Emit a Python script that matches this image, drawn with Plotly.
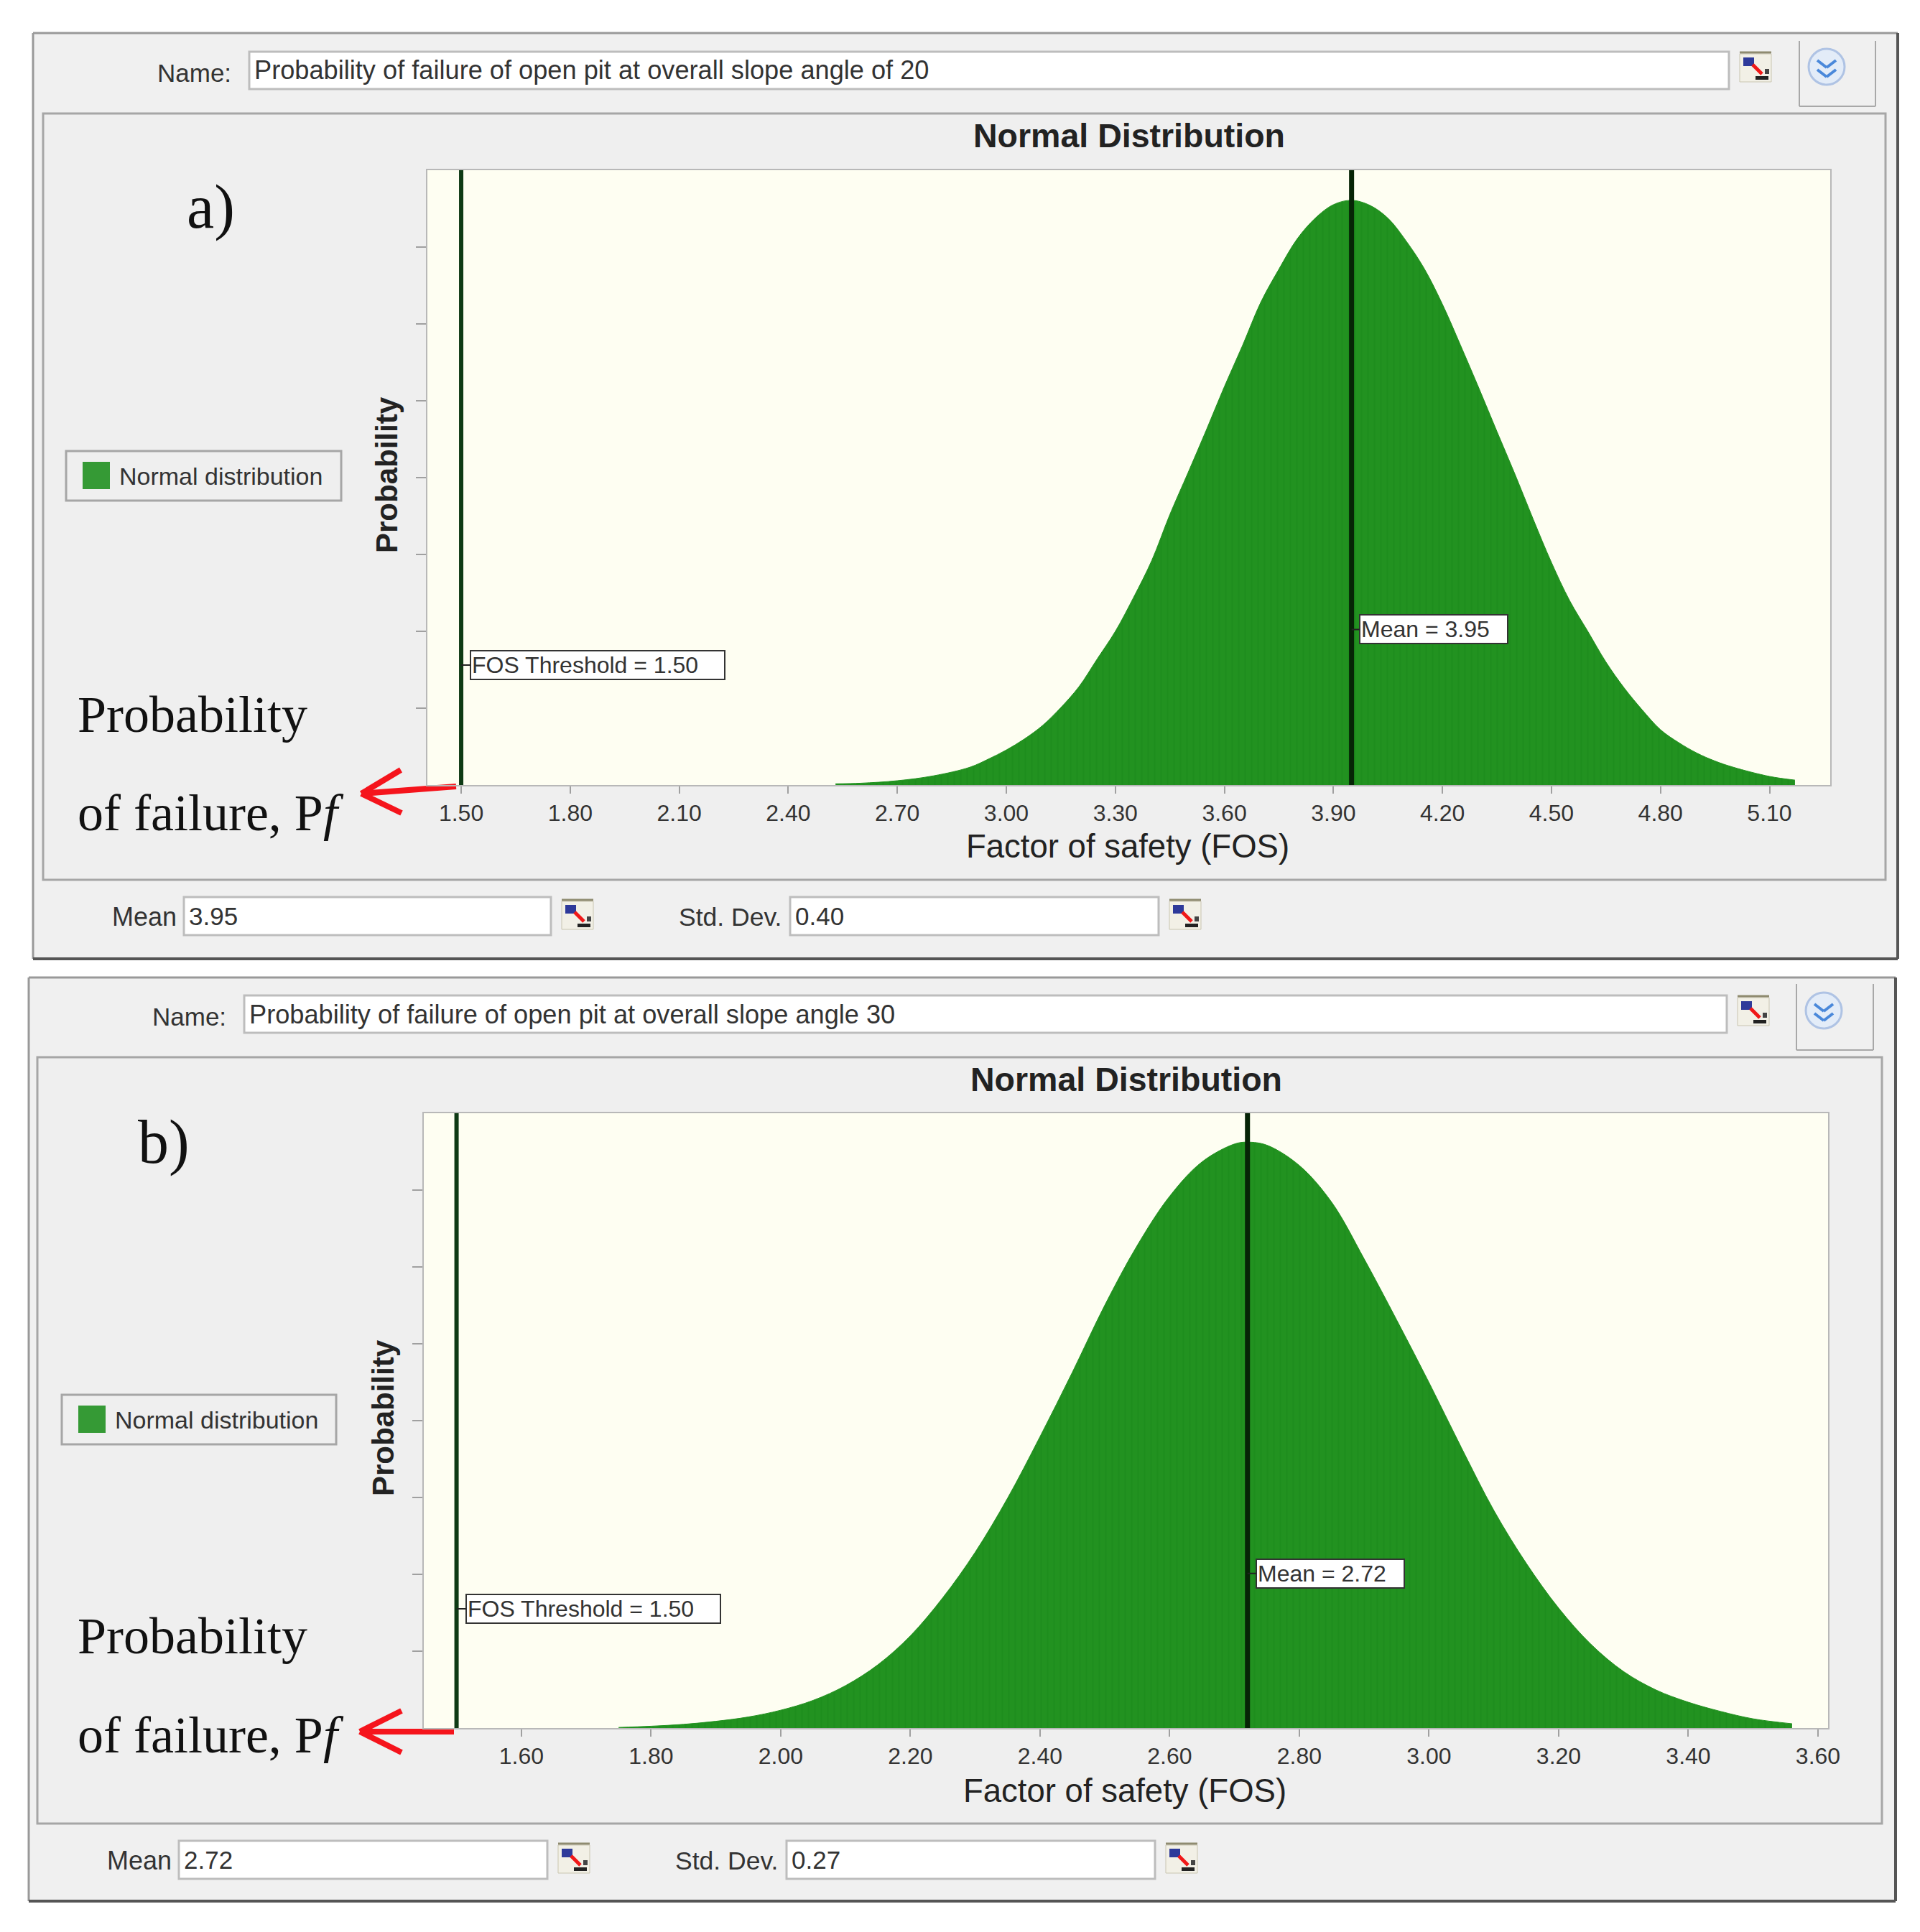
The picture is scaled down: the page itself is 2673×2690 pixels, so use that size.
import plotly.graph_objects as go

W, H = 2673, 2690

# values; y is the share of the plot height
FOS_A = [2.53, 2.6, 2.7, 2.8, 2.9, 2.95, 3.0, 3.05, 3.1, 3.15, 3.2, 3.25, 3.3, 3.35, 3.4, 3.45, 3.5,
         3.55, 3.6, 3.65, 3.7, 3.75, 3.8, 3.85, 3.9, 3.95, 4.0, 4.05, 4.1, 4.15, 4.2, 4.25, 4.3, 4.35,
         4.4, 4.45, 4.5, 4.55, 4.6, 4.65, 4.7, 4.75, 4.8, 4.85, 4.9, 4.95, 5.0, 5.1, 5.17]
PROB_A = [0.002, 0.003, 0.007, 0.015, 0.029, 0.042, 0.057, 0.075, 0.097, 0.126, 0.16, 0.205, 0.25,
          0.305, 0.365, 0.44, 0.508, 0.577, 0.648, 0.715, 0.785, 0.839, 0.888, 0.922, 0.944, 0.951,
          0.943, 0.922, 0.885, 0.84, 0.782, 0.715, 0.646, 0.575, 0.505, 0.432, 0.362, 0.3, 0.25, 0.2,
          0.158, 0.122, 0.09, 0.069, 0.052, 0.039, 0.029, 0.014, 0.008]
STRIPE_X_A = [2.953, 3.212, 3.456, 3.716, 4.215, 4.466, 4.71, 4.967]
STRIPE_Y_A = [0.036, 0.16, 0.435, 0.79, 0.75, 0.395, 0.14, 0.03]

FOS_B = [1.75, 1.8, 1.85, 1.9, 1.95, 2.0, 2.05, 2.1, 2.15, 2.2, 2.25, 2.3, 2.35, 2.4, 2.45, 2.5,
         2.55, 2.6, 2.65, 2.7, 2.72, 2.75, 2.8, 2.85, 2.9, 2.95, 3.0, 3.05, 3.1, 3.15, 3.2, 3.25,
         3.3, 3.35, 3.4, 3.45, 3.5, 3.56]
PROB_B = [0.001, 0.003, 0.006, 0.011, 0.018, 0.029, 0.045, 0.069, 0.103, 0.15, 0.212, 0.286, 0.374,
          0.474, 0.579, 0.688, 0.785, 0.865, 0.921, 0.95, 0.953, 0.948, 0.915, 0.855, 0.763, 0.664,
          0.562, 0.456, 0.354, 0.268, 0.195, 0.136, 0.092, 0.062, 0.042, 0.027, 0.015, 0.007]
STRIPE_X_B = [2.037, 2.178, 2.316, 2.46, 2.6, 2.743, 2.881, 3.026, 3.169, 3.307, 3.45]
STRIPE_Y_B = [0.036, 0.122, 0.3, 0.585, 0.855, 0.94, 0.79, 0.495, 0.228, 0.08, 0.022]

TICKS_A = [1.5, 1.8, 2.1, 2.4, 2.7, 3.0, 3.3, 3.6, 3.9, 4.2, 4.5, 4.8, 5.1]
TICKS_B = [1.6, 1.8, 2.0, 2.2, 2.4, 2.6, 2.8, 3.0, 3.2, 3.4, 3.6]
Y_TICKS = [0.125, 0.25, 0.375, 0.5, 0.625, 0.75, 0.875]

THRESHOLD = 1.5
MEAN_A, MEAN_B = 3.95, 2.72
STD_A, STD_B = 0.40, 0.27
NAME_A = "Probability of failure of open pit at overall slope angle of 20"
NAME_B = "Probability of failure of open pit at overall slope angle 30"

GREY = "#EFEFEF"
IVORY = "#FEFEF2"
GREEN = "#229220"
UI_FONT = "Liberation Sans"
SERIF = "Liberation Serif"
TEXT = "#333333"

shapes = []
notes = []


def px(x):
    return x / W


def py(y):
    return 1 - y / H


def rect(x0, y0, x1, y1, fill=None, line=None, width=0):
    shapes.append(dict(type="rect", xref="paper", yref="paper", layer="below",
                       x0=px(x0), x1=px(x1), y0=py(y0), y1=py(y1),
                       fillcolor=fill or "rgba(0,0,0,0)",
                       line=dict(color=line or "rgba(0,0,0,0)", width=width)))


def seg(x0, y0, x1, y1, color, width):
    shapes.append(dict(type="line", xref="paper", yref="paper", layer="below",
                       x0=px(x0), x1=px(x1), y0=py(y0), y1=py(y1),
                       line=dict(color=color, width=width)))


def text(x, y, s, size, anchor="left", font=UI_FONT, color=TEXT, angle=0):
    notes.append(dict(xref="paper", yref="paper", x=px(x), y=py(y), text=s, showarrow=False,
                      xanchor=anchor, yanchor="middle", textangle=angle,
                      font=dict(family=font, size=size, color=color)))


def table_icon(x, y):
    # little spreadsheet button beside the input boxes
    rect(x, y + 5, x + 44, y + 44, fill="#F2F0E6", line="#C9C5B0", width=1)
    seg(x, y + 3, x + 44, y + 3, "#8F8B70", 3)
    rect(x + 5, y + 10, x + 20, y + 22, fill="#2E3A9A")
    seg(x + 18, y + 20, x + 31, y + 33, "#F01818", 5)
    rect(x + 22, y + 36, x + 40, y + 41, fill="#222222")
    rect(x + 35, y + 26, x + 41, y + 33, fill="#444444")


def expand_button(x0, y0, x1, y1, cx, cy):
    seg(x0, y0, x0, y1, "#A8A8A8", 2)
    seg(x0, y1, x1, y1, "#A8A8A8", 2)
    seg(x1, y0, x1, y1, "#A8A8A8", 2)
    r = 25
    shapes.append(dict(type="circle", xref="paper", yref="paper", layer="below",
                       x0=px(cx - r), x1=px(cx + r), y0=py(cy - r), y1=py(cy + r),
                       fillcolor="#E3ECF8", line=dict(color="#AFC3E4", width=3)))
    for dy in (-9, 4):
        seg(cx - 13, cy + dy, cx, cy + dy + 10, "#4A88DA", 4)
        seg(cx, cy + dy + 10, cx + 13, cy + dy, "#4A88DA", 4)


def red_arrow(tip, barb1, barb2, end):
    for p in (barb1, barb2, end):
        seg(tip[0], tip[1], p[0], p[1], "#F5141C", 8)


def panel(p):
    rect(p["outer"][0], p["outer"][1], p["outer"][2], p["outer"][3], fill="#F0F0F0")
    o = p["outer"]
    seg(o[0], o[1], o[2], o[1], "#999999", 3)
    seg(o[0], o[1], o[0], o[3], "#999999", 3)
    seg(o[2], o[1], o[2], o[3], "#555555", 4)
    seg(o[0], o[3], o[2], o[3], "#555555", 4)
    i = p["inner"]
    rect(i[0], i[1], i[2], i[3], fill=GREY, line="#A6A6A6", width=3)
    a = p["plot"]
    rect(a[0], a[1], a[2], a[3], fill=IVORY)

    # name row
    n = p["name_box"]
    text(n[0] - 23, (n[1] + n[3]) / 2 + 3, "Name:", 35, anchor="right")
    rect(n[0], n[1], n[2], n[3], fill="white", line="#BDBDBD", width=3)
    text(n[0] + 5, (n[1] + n[3]) / 2, p["name"], 36.2)
    table_icon(n[2] + 15, n[1] - 2)
    expand_button(*p["button"])

    text((a[0] + a[2]) / 2, p["title_y"], "<b>Normal Distribution</b>", 46.5, anchor="center", color="#222222")
    text((a[0] + a[2]) / 2 - 2, p["xtitle_y"], "Factor of safety (FOS)", 45.5, anchor="center", color="#222222")
    text(a[0] - 57, (a[1] + a[3]) / 2 - 4, "<b>Probability</b>", 42, anchor="center", color="#222222", angle=-90)

    # legend
    l = p["legend"]
    rect(l[0], l[1], l[2], l[3], line="#A6A6A6", width=3)
    rect(l[0] + 23, l[1] + 15, l[0] + 61, l[1] + 53, fill="#359A35")
    text(l[0] + 72, (l[1] + l[3]) / 2, "Normal distribution", 34)

    # panel letter and failure note
    text(p["letter"][0], p["letter"][1], p["letter"][2], 86, font=SERIF, color="#111111")
    text(106, p["pf_y"][0], "Probability", 72, font=SERIF, color="#111111")
    text(106, p["pf_y"][1], "of failure, P<i>f</i>", 72, font=SERIF, color="#111111")
    red_arrow(*p["arrow"])

    # mean / std row
    m, s = p["mean_box"], p["std_box"]
    text(m[0] - 8, (m[1] + m[3]) / 2 + 1, "Mean", 36, anchor="right")
    rect(m[0], m[1], m[2], m[3], fill="white", line="#BDBDBD", width=3)
    text(m[0] + 5, (m[1] + m[3]) / 2, p["mean"], 35)
    table_icon(m[2] + 15, m[1] + 1)
    text(s[0] - 10, (s[1] + s[3]) / 2 + 1, "Std. Dev.", 35.5, anchor="right")
    rect(s[0], s[1], s[2], s[3], fill="white", line="#BDBDBD", width=3)
    text(s[0] + 5, (s[1] + s[3]) / 2, p["std"], 35)
    table_icon(s[2] + 15, s[1] + 1)


def add_dist(fig, xa, ya, fos, prob, stripe_x, stripe_y, stripe_w, mean):
    fig.add_trace(go.Scatter(x=fos, y=prob, xaxis=xa, yaxis=ya, mode="lines", name="Normal distribution",
                             line=dict(color=GREEN, width=1, shape="spline", smoothing=1.0),
                             fill="tozeroy", fillcolor=GREEN,
                             fillpattern=dict(shape="|", size=9, solidity=0.25,
                                              fgcolor="#1A8A1A", bgcolor=GREEN)))
    fig.add_trace(go.Bar(x=stripe_x, y=stripe_y, xaxis=xa, yaxis=ya, width=stripe_w,
                         marker=dict(color="#0C8410", line=dict(width=0)), showlegend=False))
    fig.add_trace(go.Scatter(x=[THRESHOLD, THRESHOLD], y=[0, 1], xaxis=xa, yaxis=ya, mode="lines",
                             line=dict(color="#0E3A14", width=6), showlegend=False))
    fig.add_trace(go.Scatter(x=[mean, mean], y=[0, 1], xaxis=xa, yaxis=ya, mode="lines",
                             line=dict(color="#062406", width=7), showlegend=False))


def value_label(xa, ya, x, y, s, box_w, off):
    notes.append(dict(xref=xa, yref=ya, x=x, y=y, text=s, showarrow=True, arrowhead=0,
                      arrowwidth=2, arrowcolor="#222222", ax=off, ay=0, axref="pixel", ayref="pixel",
                      bgcolor="white", bordercolor="#333333", borderwidth=2, borderpad=1,
                      width=box_w, height=36, align="left",
                      font=dict(family=UI_FONT, size=32, color=TEXT)))


PANEL_A = dict(outer=(46, 46, 2642, 1335), inner=(60, 158, 2625, 1225), plot=(595, 237, 2548, 1093),
               name=NAME_A, name_box=(347, 72, 2407, 124), button=(2505, 57, 2611, 148, 2543, 93),
               title_y=189, xtitle_y=1179, legend=(92, 628, 475, 697),
               letter=(258, 288, "a)"), pf_y=(995, 1132),
               arrow=((503, 1105), (558, 1072), (559, 1132), (635, 1095)),
               mean=f"{MEAN_A:.2f}", std=f"{STD_A:.2f}",
               mean_box=(256, 1249, 767, 1302), std_box=(1100, 1249, 1613, 1302))
PANEL_B = dict(outer=(40, 1361, 2639, 2647), inner=(52, 1472, 2620, 2539), plot=(590, 1550, 2545, 2406),
               name=NAME_B, name_box=(340, 1386, 2404, 1438), button=(2501, 1370, 2608, 1462, 2539, 1407),
               title_y=1503, xtitle_y=2493, legend=(86, 1942, 468, 2011),
               letter=(190, 1590, "b)"), pf_y=(2278, 2416),
               arrow=((501, 2411), (559, 2382), (559, 2440), (632, 2411)),
               mean=f"{MEAN_B:.2f}", std=f"{STD_B:.2f}",
               mean_box=(249, 2563, 762, 2616), std_box=(1095, 2563, 1608, 2616))

panel(PANEL_A)
panel(PANEL_B)

fig = go.Figure()
add_dist(fig, "x", "y", FOS_A, PROB_A, STRIPE_X_A, STRIPE_Y_A, 0.008, MEAN_A)
add_dist(fig, "x2", "y2", FOS_B, PROB_B, STRIPE_X_B, STRIPE_Y_B, 0.0045, MEAN_B)

value_label("x", "y", THRESHOLD, 0.195, f"FOS Threshold = {THRESHOLD:.2f}", 350, 190)
value_label("x", "y", MEAN_A, 0.253, f"Mean = {MEAN_A:.2f}", 202, 114)
value_label("x2", "y2", THRESHOLD, 0.194, f"FOS Threshold = {THRESHOLD:.2f}", 350, 190)
value_label("x2", "y2", MEAN_B, 0.2516, f"Mean = {MEAN_B:.2f}", 202, 115)


def x_axis(pa, rng, ticks, anchor):
    return dict(domain=[px(pa[0]), px(pa[2])], range=rng, anchor=anchor, tickmode="array",
                tickvals=ticks, ticktext=[f"{t:.2f}" for t in ticks], ticks="outside", ticklen=10,
                tickcolor="#A0A0A0", tickwidth=2, tickfont=dict(family=UI_FONT, size=32, color=TEXT),
                ticklabelstandoff=0, showgrid=False, zeroline=False, showline=True, mirror=True,
                linecolor="#B8B8B8", linewidth=2, automargin=False)


def y_axis(pa, anchor):
    return dict(domain=[py(pa[3]), py(pa[1])], range=[0, 1], anchor=anchor, tickmode="array",
                tickvals=Y_TICKS, showticklabels=False, ticks="outside", ticklen=14, tickcolor="#A0A0A0",
                tickwidth=2, showgrid=False, zeroline=False, showline=True, mirror=True,
                linecolor="#B8B8B8", linewidth=2, automargin=False)


fig.update_layout(
    width=W, height=H, margin=dict(l=0, r=0, t=0, b=0), showlegend=False,
    paper_bgcolor="white", plot_bgcolor="rgba(0,0,0,0)", bargap=0,
    shapes=shapes, annotations=notes,
    xaxis=x_axis(PANEL_A["plot"], [1.407, 5.267], TICKS_A, "y"),
    yaxis=y_axis(PANEL_A["plot"], "x"),
    xaxis2=x_axis(PANEL_B["plot"], [1.4495, 3.6155], TICKS_B, "y2"),
    yaxis2=y_axis(PANEL_B["plot"], "x2"),
)
fig.write_html("out.html", config={"displayModeBar": False, "responsive": False},
               default_width=f"{W}px", default_height=f"{H}px",
               post_script="document.body.style.margin='0';document.documentElement.style.overflow='hidden';")
